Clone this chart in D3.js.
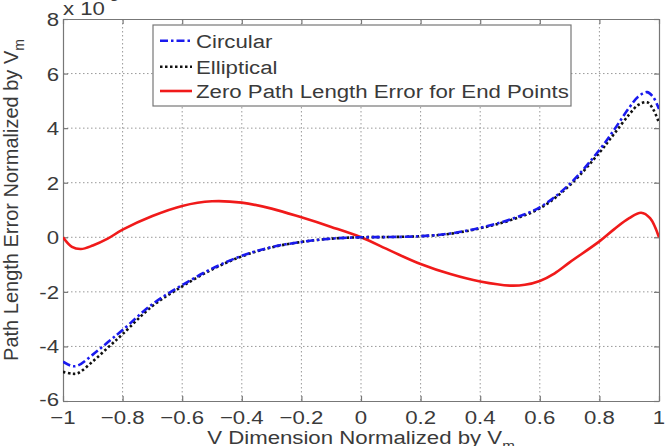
<!DOCTYPE html>
<html>
<head>
<meta charset="utf-8">
<script src="https://cdn.jsdelivr.net/npm/d3@7"></script>
<style>
  body { margin: 0; background: #fff; }
  svg { display: block; font-family: "Liberation Sans", Arial, sans-serif; }
</style>
</head>
<body>
<div id="chart"></div>
<script>
// x positions (V dimension normalized) and series values (x 10^-3)
var xCirc = [-1, -0.97, -0.95, -0.9, -0.85, -0.8, -0.7, -0.6, -0.5, -0.4, -0.3, -0.2, -0.1, 0, 0.1, 0.2, 0.3, 0.4, 0.5, 0.6, 0.7, 0.8, 0.85, 0.9, 0.93, 0.96, 0.98, 1]
var circular = [-4.56, -4.72, -4.70, -4.3, -3.85, -3.4, -2.45, -1.75, -1.15, -0.68, -0.36, -0.17, -0.05, 0, 0.01, 0.04, 0.14, 0.35, 0.65, 1.1, 1.95, 3.2, 3.95, 4.75, 5.15, 5.32, 5.15, 4.7]
var elliptical = [-4.93, -5.0, -4.98, -4.55, -4.05, -3.55, -2.52, -1.8, -1.18, -0.7, -0.37, -0.17, -0.05, 0, 0.01, 0.04, 0.13, 0.33, 0.62, 1.06, 1.9, 3.1, 3.8, 4.5, 4.85, 4.95, 4.7, 4.2]

var xZero = [-1, -0.97, -0.94, -0.9, -0.85, -0.8, -0.7, -0.6, -0.5, -0.4, -0.3, -0.2, -0.1, 0, 0.1, 0.2, 0.3, 0.4, 0.5, 0.55, 0.6, 0.65, 0.7, 0.8, 0.85, 0.9, 0.94, 0.97, 1]
var zeroEnd = [0, -0.35, -0.43, -0.3, -0.05, 0.28, 0.78, 1.15, 1.32, 1.27, 1.05, 0.73, 0.38, 0, -0.5, -0.98, -1.35, -1.62, -1.77, -1.74, -1.6, -1.32, -0.92, -0.15, 0.3, 0.7, 0.9, 0.7, 0]

var xTicks = [-1, -0.8, -0.6, -0.4, -0.2, 0, 0.2, 0.4, 0.6, 0.8, 1]
var yTicks = [-6, -4, -2, 0, 2, 4, 6, 8]
var legendLabels = ["Circular", "Elliptical", "Zero Path Length Error for End Points"]

var width = 670, height = 446
var margin = {top: 19, right: 11, bottom: 45, left: 63}
var stretch = 1.17 // horizontal text stretch seen in the picture

var svg = d3.select("#chart")
  .append("svg")
  .attr("width", width)
  .attr("height", height)

var xScale = d3.scaleLinear()
  .domain([-1, 1])
  .range([margin.left, width - margin.right])

var yScale = d3.scaleLinear()
  .domain([-6, 8])
  .range([height - margin.bottom, margin.top])

svg.append("clipPath").attr("id", "plot-clip")
  .append("rect")
  .attr("x", margin.left)
  .attr("y", margin.top)
  .attr("width", xScale(1) - xScale(-1))
  .attr("height", yScale(-6) - yScale(8))

// grid
svg.append("g")
  .selectAll("line")
  .data(xTicks.slice(1, -1))
  .enter()
  .append("line")
  .attr("x1", d => xScale(d)).attr("x2", d => xScale(d))
  .attr("y1", yScale(8)).attr("y2", yScale(-6))
  .attr("stroke", "#999")
  .attr("stroke-dasharray", "1.5,2.5")

svg.append("g")
  .selectAll("line")
  .data(yTicks.slice(1, -1))
  .enter()
  .append("line")
  .attr("y1", d => yScale(d)).attr("y2", d => yScale(d))
  .attr("x1", xScale(-1)).attr("x2", xScale(1))
  .attr("stroke", "#999")
  .attr("stroke-dasharray", "1.5,2.5")

// axes with inward ticks, no labels
var axisColor = "#777"
var xAxisB = d3.axisBottom(xScale).tickValues(xTicks).tickSize(-5).tickSizeOuter(0).tickFormat("")
var xAxisT = d3.axisTop(xScale).tickValues(xTicks).tickSize(-5).tickSizeOuter(0).tickFormat("")
var yAxisL = d3.axisLeft(yScale).tickValues(yTicks).tickSize(-5).tickSizeOuter(0).tickFormat("")
var yAxisR = d3.axisRight(yScale).tickValues(yTicks).tickSize(-5).tickSizeOuter(0).tickFormat("")

svg.append("g").attr("transform", `translate(0,${yScale(-6)})`).call(xAxisB)
svg.append("g").attr("transform", `translate(0,${yScale(8)})`).call(xAxisT)
svg.append("g").attr("transform", `translate(${xScale(-1)},0)`).call(yAxisL)
svg.append("g").attr("transform", `translate(${xScale(1)},0)`).call(yAxisR)
svg.selectAll(".domain, .tick line").attr("stroke", axisColor).attr("stroke-width", 1.2)

// curves
var line = (xs) => d3.line()
  .x((d, i) => xScale(xs[i]))
  .y(d => yScale(d))
  .curve(d3.curveCatmullRom.alpha(0.5))

var plot = svg.append("g").attr("clip-path", "url(#plot-clip)")

plot.append("path")
  .datum(zeroEnd)
  .attr("d", line(xZero))
  .attr("fill", "none")
  .attr("stroke", "#f01a1a")
  .attr("stroke-width", 2.6)

plot.append("path")
  .datum(elliptical)
  .attr("d", line(xCirc))
  .attr("fill", "none")
  .attr("stroke", "#111")
  .attr("stroke-width", 2.6)
  .attr("stroke-dasharray", "2.5,2.5")

plot.append("path")
  .datum(circular)
  .attr("d", line(xCirc))
  .attr("fill", "none")
  .attr("stroke", "#1a1aee")
  .attr("stroke-width", 2.6)
  .attr("stroke-dasharray", "8,3,2.5,3")

// tick labels (stretched horizontally like the source)
var textColor = "#3a3a3a"
var fontSize = 19

svg.append("g")
  .selectAll("g")
  .data(xTicks)
  .enter()
  .append("g")
  .attr("transform", d => `translate(${xScale(d)},${yScale(-6) + 23}) scale(${stretch},1)`)
  .append("text")
  .attr("text-anchor", "middle")
  .attr("font-size", fontSize)
  .attr("fill", textColor)
  .text(d => d3.format("")(d))

svg.append("g")
  .selectAll("g")
  .data(yTicks)
  .enter()
  .append("g")
  .attr("transform", d => `translate(${xScale(-1) - 4},${yScale(d) + (d === -6 ? 5 : 7)}) scale(${stretch},1)`)
  .append("text")
  .attr("text-anchor", "end")
  .attr("font-size", fontSize)
  .attr("fill", textColor)
  .text(d => d)

// exponent label
var expo = svg.append("g")
  .attr("transform", `translate(${xScale(-1)},15) scale(${stretch},1)`)
  .append("text")
  .attr("font-size", fontSize)
  .attr("fill", textColor)
expo.append("tspan").text("x 10")
expo.append("tspan").attr("font-size", 13).attr("dy", -14).text("-3")

// x label
var xl = svg.append("g")
  .attr("transform", `translate(${xScale(0)},444) scale(${stretch},1)`)
  .append("text")
  .attr("text-anchor", "middle")
  .attr("font-size", fontSize)
  .attr("fill", textColor)
xl.append("tspan").text("V Dimension Normalized by V")
xl.append("tspan").attr("font-size", 13).attr("dy", 6).text("m")

// y label
var yl = svg.append("text")
  .attr("transform", `translate(18,200) rotate(-90)`)
  .attr("text-anchor", "middle")
  .attr("font-size", 20)
  .attr("fill", textColor)
yl.append("tspan").text("Path Length Error Normalized by V")
yl.append("tspan").attr("font-size", 14).attr("dy", 6).text("m")

// legend
var legX = 153, legY = 25, legW = 418, legH = 81
var legColors = ["#1a1aee", "#111", "#f01a1a"]
var legDash = ["8,3,2.5,3", "2.5,2.5", null]
var legRows = [40.7, 66.7, 91]

var legend = svg.append("g")
legend.append("rect")
  .attr("x", legX).attr("y", legY)
  .attr("width", legW).attr("height", legH)
  .attr("fill", "#fff")
  .attr("stroke", axisColor)
  .attr("stroke-width", 1.2)

var entries = legend.selectAll(".entry")
  .data(legendLabels)
  .enter()
  .append("g")
  .attr("class", "entry")

entries.append("line")
  .attr("x1", legX + 7).attr("x2", legX + 39)
  .attr("y1", (d, i) => legRows[i]).attr("y2", (d, i) => legRows[i])
  .attr("stroke", (d, i) => legColors[i])
  .attr("stroke-width", 2.6)
  .attr("stroke-dasharray", (d, i) => legDash[i])

entries.append("g")
  .attr("transform", (d, i) => `translate(${legX + 43},${legRows[i] + 7}) scale(${stretch},1)`)
  .append("text")
  .attr("font-size", fontSize)
  .attr("fill", textColor)
  .text(d => d)
</script>
</body>
</html>
